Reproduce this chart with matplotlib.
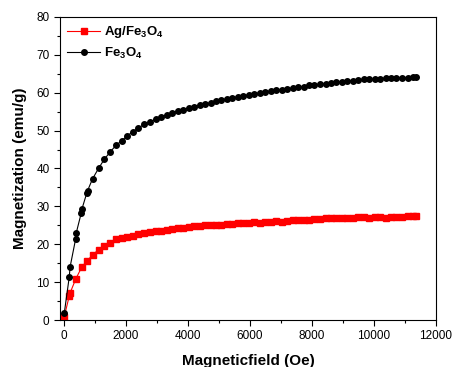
import matplotlib
matplotlib.use('Agg')
import matplotlib.pyplot as plt
from matplotlib.ticker import MultipleLocator

plt.rcParams['font.family'] = ['Liberation Sans', 'DejaVu Sans']
plt.rcParams['mathtext.fontset'] = 'custom'
plt.rcParams['mathtext.rm'] = 'Liberation Sans:bold'
plt.rcParams['mathtext.it'] = 'Liberation Sans:bold'
plt.rcParams['mathtext.bf'] = 'Liberation Sans:bold'

# Fe3O4 curve (field in Oe, magnetization in emu/g)
fe_field = [10, 170, 200, 377, 397, 560, 580, 740, 760, 925, 1115, 1300, 1495, 1680,
            1860, 2040, 2225, 2400, 2590, 2780, 2960, 3130, 3310, 3490,
            3670, 3850, 4020, 4200, 4380, 4550, 4730, 4900, 5080, 5260,
            5430, 5610, 5790, 5960, 6140, 6320, 6490, 6670, 6850, 7020,
            7200, 7380, 7550, 7730, 7910, 8080, 8260, 8440, 8610, 8790,
            8970, 9140, 9320, 9500, 9670, 9850, 10030, 10200, 10380, 10560,
            10730, 10910, 11090, 11260, 11350]
fe_mag = [1.8, 11.3, 14.1, 21.4, 23.0, 28.3, 29.3, 33.6, 34.1, 37.3, 40.0, 42.4, 44.4, 46.1,
          47.3, 48.6, 49.7, 50.6, 51.7, 52.3, 53.0, 53.6, 54.1, 54.7,
          55.1, 55.5, 56.0, 56.3, 56.7, 57.0, 57.3, 57.7, 58.0, 58.3,
          58.6, 58.9, 59.2, 59.4, 59.7, 59.9, 60.2, 60.4, 60.6, 60.8,
          61.0, 61.2, 61.4, 61.6, 61.9, 62.0, 62.2, 62.4, 62.5, 62.7,
          62.9, 63.0, 63.2, 63.3, 63.5, 63.5, 63.6, 63.7, 63.8, 63.9,
          63.9, 64.0, 64.0, 64.1, 64.1]

# Ag/Fe3O4 curve
ag_field = [10, 170, 200, 385, 570, 750, 935, 1115, 1300, 1490, 1680,
            1860, 2040, 2225, 2400, 2590, 2780, 2960, 3130, 3310, 3490,
            3670, 3850, 4020, 4200, 4380, 4550, 4730, 4900, 5080, 5260,
            5430, 5610, 5790, 5960, 6140, 6320, 6490, 6670, 6850, 7020,
            7200, 7380, 7550, 7730, 7910, 8080, 8260, 8440, 8610, 8790,
            8970, 9140, 9320, 9500, 9670, 9850, 10030, 10200, 10380, 10560,
            10730, 10910, 11090, 11260, 11350]
ag_mag = [0.9, 6.3, 7.2, 10.9, 13.9, 15.7, 17.2, 18.6, 19.5, 20.2, 21.3,
          21.6, 21.9, 22.3, 22.6, 23.0, 23.2, 23.4, 23.6, 23.8, 24.0,
          24.2, 24.4, 24.6, 24.7, 24.9, 25.0, 25.1, 25.1, 25.2, 25.3,
          25.4, 25.5, 25.6, 25.7, 25.8, 25.7, 25.9, 26.0, 26.1, 26.0,
          26.2, 26.3, 26.4, 26.5, 26.5, 26.6, 26.7, 26.8, 26.8, 26.9,
          26.9, 27.0, 27.0, 27.1, 27.1, 27.0, 27.2, 27.1, 27.0, 27.2,
          27.3, 27.3, 27.4, 27.5, 27.5]

fig = plt.figure(figsize=(4.54, 3.67), dpi=100)
ax = fig.add_axes([0.132, 0.128, 0.828, 0.826])

ax.plot(ag_field, ag_mag, color='red', marker='s', markersize=3.8, linewidth=0.8,
        label='Ag/Fe$_3$O$_4$')
ax.plot(fe_field, fe_mag, color='black', marker='o', markersize=4.0, linewidth=0.8,
        label='Fe$_3$O$_4$')

ax.set_xlim(-130, 12000)
ax.set_ylim(0, 80)
ax.xaxis.set_major_locator(MultipleLocator(2000))
ax.xaxis.set_minor_locator(MultipleLocator(1000))
ax.yaxis.set_major_locator(MultipleLocator(10))
ax.yaxis.set_minor_locator(MultipleLocator(5))
ax.tick_params(which='both', direction='out', labelsize=8.5, top=False, right=False)
ax.tick_params(which='major', length=4, width=0.8)
ax.tick_params(which='minor', length=2.5, width=0.8)
for s in ax.spines.values():
    s.set_linewidth(0.8)

ax.set_xlabel('Magneticfield (Oe)', fontsize=11, fontweight='bold', labelpad=8)
ax.set_ylabel('Magnetization (emu/g)', fontsize=11, fontweight='bold', labelpad=7)

leg = ax.legend(loc='upper left', frameon=False, fontsize=9.5, handlelength=2.5,
                borderaxespad=0.35, borderpad=0.2, labelspacing=0.45, handletextpad=0.3)
for t in leg.get_texts():
    t.set_fontweight('bold')

fig.savefig('out.png', dpi=100)
